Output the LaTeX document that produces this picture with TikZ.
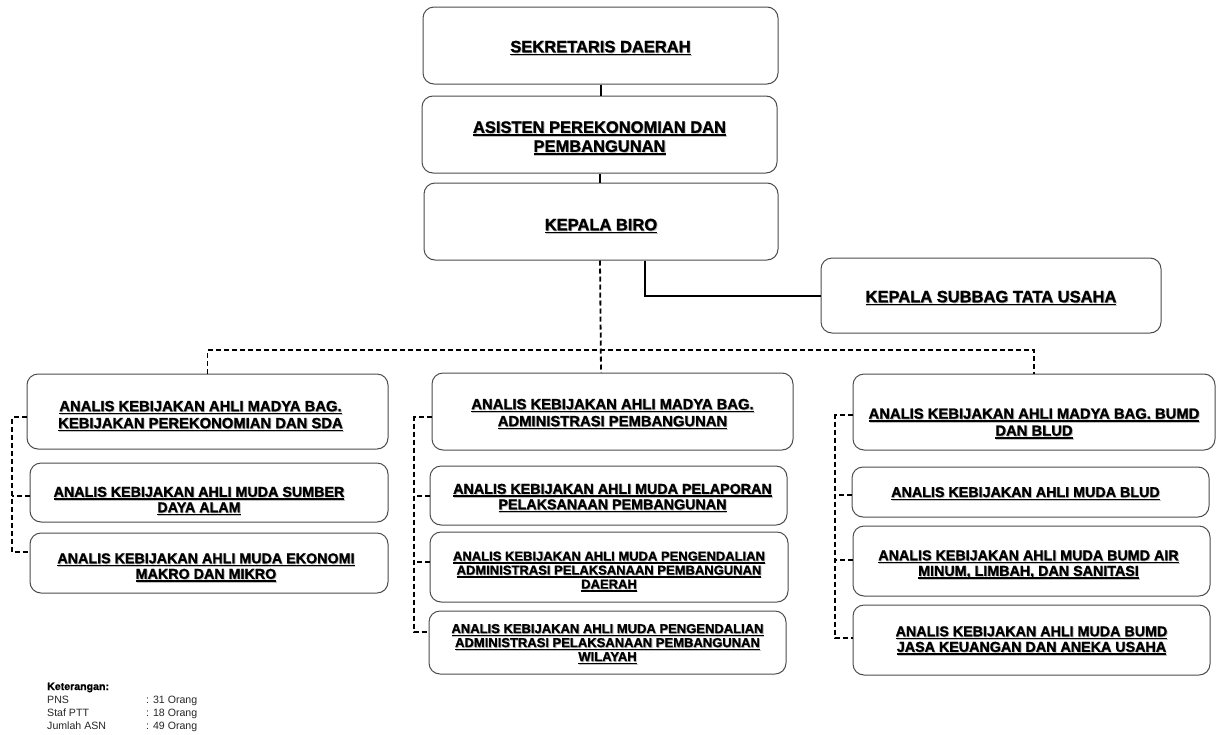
\documentclass[tikz,border=0pt]{standalone}
\usepackage{fontspec}
\setmainfont{Liberation Sans}[BoldFeatures={FakeBold=1.3}]
\usetikzlibrary{calc}
\newcommand\ulx[1]{%
  \setbox0\hbox{#1}%
  \rlap{\kern0.9pt\raisebox{-0.9pt}{\color{black!25}\rule[-3pt]{\wd0}{1.3pt}}}%
  \rlap{\kern0.9pt\raisebox{-0.9pt}{\color{black!25}\copy0}}%
  \rlap{\rule[-3pt]{\wd0}{1.4pt}}%
  \box0}
\tikzset{
  box/.style={draw=black!70, line width=1pt, rounded corners=11pt, fill=white, inner sep=0pt},
  txt/.style={align=center, inner sep=0pt, text=black},
  ftop/.style={font=\bfseries\fontsize{16.5}{19}\selectfont},
  fmad/.style={font=\bfseries\fontsize{14.8}{17}\selectfont},
  fmud/.style={font=\bfseries\fontsize{14.3}{15.5}\selectfont},
  fsml/.style={font=\bfseries\fontsize{13}{14}\selectfont},
  solidc/.style={line width=2pt, draw=black},
  dashc/.style={line width=1.8pt, draw=black, dash pattern=on 5pt off 3pt},
  leg/.style={anchor=base west, inner sep=0pt, font=\fontsize{10.6}{13}\selectfont, text=black!85},
}
\begin{document}
\begin{tikzpicture}[x=1pt,y=-1pt]
\useasboundingbox (0,0) rectangle (1217,734);
\fill[white] (0,0) rectangle (1217,734);

% ---------- boxes ----------
\node[box, minimum width=355pt, minimum height=77pt] (sek) at (600.5,45.5) {};
\node[box, minimum width=355pt, minimum height=77pt] (asi) at (599.5,134.5) {};
\node[box, minimum width=354pt, minimum height=77pt] (biro) at (601,221.5) {};
\node[box, minimum width=340pt, minimum height=75pt] (tu) at (991,295.5) {};

\node[box, minimum width=361pt, minimum height=75pt] (L1) at (207.5,411.5) {};
\node[box, minimum width=358pt, minimum height=59pt] (L2) at (209,492.5) {};
\node[box, minimum width=358pt, minimum height=60pt] (L3) at (209,563) {};

\node[box, minimum width=361pt, minimum height=77pt] (M1) at (612.5,411.5) {};
\node[box, minimum width=357pt, minimum height=59pt] (M2) at (608.5,495.5) {};
\node[box, minimum width=358pt, minimum height=70pt] (M3) at (609,567) {};
\node[box, minimum width=357pt, minimum height=63pt] (M4) at (607.5,642.5) {};

\node[box, minimum width=362pt, minimum height=76pt] (R1) at (1034,412) {};
\node[box, minimum width=357pt, minimum height=50pt] (R2) at (1030.5,492) {};
\node[box, minimum width=357pt, minimum height=70pt] (R3) at (1031.5,561) {};
\node[box, minimum width=357pt, minimum height=70pt] (R4) at (1031.5,640) {};

% ---------- texts ----------
\node[txt, ftop] (sekT) at ($(sek)+(0,3)$) {\ulx{SEKRETARIS DAERAH}};
\node[txt, ftop] (asiT) at ($(asi)+(0,4)$) {\ulx{ASISTEN PEREKONOMIAN DAN}\\\ulx{PEMBANGUNAN}};
\node[txt, ftop] (biroT) at ($(biro)+(0,5)$) {\ulx{KEPALA BIRO}};
\node[txt, ftop] (tuT) at ($(tu)+(0,3)$) {\ulx{KEPALA SUBBAG TATA USAHA}};

\node[txt, fmad] (L1T) at ($(L1)+(-7,5)$) {\ulx{ANALIS KEBIJAKAN AHLI MADYA BAG.}\\\ulx{KEBIJAKAN PEREKONOMIAN DAN SDA}};
\node[txt, fmud] (L2T) at ($(L2)+(-10,9)$) {\ulx{ANALIS KEBIJAKAN AHLI MUDA SUMBER}\\\ulx{DAYA ALAM}};
\node[txt, fmud] (L3T) at ($(L3)+(-3,5)$) {\ulx{ANALIS KEBIJAKAN AHLI MUDA EKONOMI}\\\ulx{MAKRO DAN MIKRO}};

\node[txt, fmad] (M1T) at ($(M1)+(0,3)$) {\ulx{ANALIS KEBIJAKAN AHLI MADYA BAG.}\\\ulx{ADMINISTRASI PEMBANGUNAN}};
\node[txt, fmud] (M2T) at ($(M2)+(4,3)$) {\ulx{ANALIS KEBIJAKAN AHLI MUDA PELAPORAN}\\\ulx{PELAKSANAAN PEMBANGUNAN}};
\node[txt, fsml] (M3T) at ($(M3)+(0,5)$) {\ulx{ANALIS KEBIJAKAN AHLI MUDA PENGENDALIAN}\\\ulx{ADMINISTRASI PELAKSANAAN PEMBANGUNAN}\\\ulx{DAERAH}};
\node[txt, fsml] (M4T) at ($(M4)+(0,2)$) {\ulx{ANALIS KEBIJAKAN AHLI MUDA PENGENDALIAN}\\\ulx{ADMINISTRASI PELAKSANAAN PEMBANGUNAN}\\\ulx{WILAYAH}};

\node[txt, fmad] (R1T) at ($(R1)+(0,12)$) {\ulx{ANALIS KEBIJAKAN AHLI MADYA BAG. BUMD}\\\ulx{DAN BLUD}};
\node[txt, fmud] (R2T) at ($(R2)+(-5,2)$) {\ulx{ANALIS KEBIJAKAN AHLI MUDA BLUD}};
\node[txt, fmud] (R3T) at ($(R3)+(-3,4)$) {\ulx{ANALIS KEBIJAKAN AHLI MUDA BUMD AIR}\\\ulx{MINUM, LIMBAH, DAN SANITASI}};
\node[txt, fmud] (R4T) at ($(R4)+(0,1)$) {\ulx{ANALIS KEBIJAKAN AHLI MUDA BUMD}\\\ulx{JASA KEUANGAN DAN ANEKA USAHA}};

% ---------- solid connectors ----------
\draw[solidc] (sek.south) -- (sek.south |- asi.north);
\draw[solidc] (asi.south) -- (asi.south |- biro.north);
\draw[solidc] ($(biro.south)+(44,0)$) |- (tu.west);

% ---------- dashed bus ----------
\coordinate (bus) at (601,350);
\draw[dashc] ($(biro.south)+(-1,0)$) -- (bus |- M1.north);
\draw[dashc] (L1.north) |- (bus) -| (R1.north);

% left bracket
\coordinate (lx) at (12,0);
\draw[dashc] ($(L1.west)+(0,5.5)$) -| (lx |- 0,552) -- ($(L3.west)+(0,-11)$);
\draw[dashc] ($(L2.west)+(0,3.5)$) -- (lx |- 0,496);

% middle bracket
\coordinate (mx) at (414,0);
\draw[dashc] ($(M1.west)+(0,5.5)$) -| (mx |- 0,632) -- ($(M4.west)+(0,-10.5)$);
\draw[dashc] ($(M2.west)+(0,0.5)$) -- (mx |- 0,496);
\draw[dashc] ($(M3.west)+(0,-5)$) -- (mx |- 0,562);

% right bracket
\coordinate (rx) at (835,0);
\draw[dashc] ($(R1.west)+(0,3)$) -| (rx |- 0,638) -- ($(R4.west)+(0,-2)$);
\draw[dashc] ($(R2.west)+(0,3)$) -- (rx |- 0,495);
\draw[dashc] ($(R3.west)+(0,-1)$) -- (rx |- 0,560);

% ---------- legend ----------
\node[leg, text=black] (k0) at (47,690) {\bfseries Keterangan:};
\node[leg] (k1) at (47,703) {PNS};
\node[leg] (k2) at (47,716) {Staf PTT};
\node[leg] (k3) at (47,729) {Jumlah ASN};
\node[leg] (v1) at (146,703) {: 31 Orang};
\node[leg] (v2) at (146,716) {: 18 Orang};
\node[leg] (v3) at (146,729) {: 49 Orang};
\end{tikzpicture}
\end{document}
